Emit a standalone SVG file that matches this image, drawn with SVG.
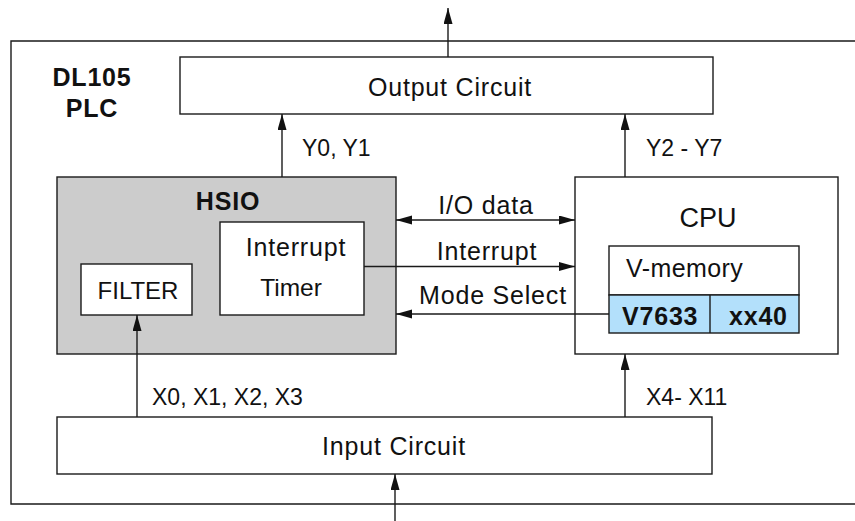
<svg xmlns="http://www.w3.org/2000/svg" width="855" height="521" viewBox="0 0 855 521">
<style>
  .box { fill: #ffffff; stroke: #1a1a1a; stroke-width: 1.4; }
  .gray { fill: #cccccc; stroke: #1a1a1a; stroke-width: 1.4; }
  .blue { fill: #b3e0fb; stroke: #1a1a1a; stroke-width: 1.4; }
  .ln { fill: none; stroke: #1a1a1a; stroke-width: 1.4; }
  .t { font-family: "Liberation Sans", Arial, sans-serif; font-size: 25px; letter-spacing: 0.8px; fill: #111; }
  .s { font-family: "Liberation Sans", Arial, sans-serif; font-size: 23px; fill: #111; }
  .b { font-family: "Liberation Sans", Arial, sans-serif; font-size: 25px; font-weight: bold; letter-spacing: 0.8px; fill: #111; }
  .m { text-anchor: middle; }
</style>
<defs>
  <marker id="ah" markerUnits="userSpaceOnUse" markerWidth="17" markerHeight="10" refX="16" refY="4.5" orient="auto-start-reverse">
    <path d="M0,0 L16,4.5 L0,9 z" fill="#111"/>
  </marker>
</defs>
<rect width="855" height="521" fill="#ffffff"/>

<g id="frame">
  <path class="ln" d="M856,41 H11 V504 H856"/>
  <text class="b m" x="92" y="86">DL105</text>
  <text class="b m" x="92" y="117">PLC</text>
</g>

<g id="output-circuit">
  <rect class="box" x="180" y="57" width="533" height="57"/>
  <text class="t m" x="450" y="96">Output Circuit</text>
</g>

<g id="hsio">
  <rect class="gray" x="57" y="177" width="339" height="177"/>
  <text class="b m" x="228" y="210">HSIO</text>
</g>

<g id="interrupt-timer">
  <rect class="box" x="220" y="222" width="144" height="93"/>
  <text class="t m" x="296" y="256">Interrupt</text>
  <text class="t m" x="291" y="296" style="font-size:24.5px;letter-spacing:0">Timer</text>
</g>

<g id="filter">
  <rect class="box" x="81" y="264" width="111" height="51"/>
  <text class="t m" x="138" y="299" style="font-size:24px;letter-spacing:0">FILTER</text>
</g>

<g id="cpu">
  <rect class="box" x="575" y="177" width="263" height="177"/>
  <text class="t m" x="708" y="227" style="font-size:27px;letter-spacing:0">CPU</text>
</g>

<g id="v-memory">
  <rect class="box" x="609" y="246" width="190" height="49"/>
  <rect class="blue" x="609" y="295" width="190" height="38"/>
  <line class="ln" x1="710" y1="295" x2="710" y2="333"/>
  <text class="t" x="626" y="277" style="letter-spacing:0.4px">V-memory</text>
  <text class="b" x="622" y="325">V7633</text>
  <text class="b" x="729" y="325">xx40</text>
</g>

<g id="input-circuit">
  <rect class="box" x="57" y="417" width="655" height="57"/>
  <text class="t m" x="394" y="455">Input Circuit</text>
</g>

<g id="connectors">
  <line class="ln" x1="448" y1="57" x2="448" y2="8" marker-end="url(#ah)"/>
  <line class="ln" x1="282" y1="177" x2="282" y2="114" marker-end="url(#ah)"/>
  <line class="ln" x1="625" y1="177" x2="625" y2="114" marker-end="url(#ah)"/>
  <line class="ln" x1="396" y1="220" x2="575" y2="220" marker-start="url(#ah)" marker-end="url(#ah)"/>
  <line class="ln" x1="364" y1="266.5" x2="575" y2="266.5" marker-end="url(#ah)"/>
  <line class="ln" x1="609" y1="314" x2="396" y2="314" marker-end="url(#ah)"/>
  <line class="ln" x1="137" y1="417" x2="137" y2="315" marker-end="url(#ah)"/>
  <line class="ln" x1="625" y1="417" x2="625" y2="354" marker-end="url(#ah)"/>
  <line class="ln" x1="395" y1="521" x2="395" y2="474" marker-end="url(#ah)"/>
  <text class="t m" x="486" y="214">I/O data</text>
  <text class="t m" x="487" y="260">Interrupt</text>
  <text class="t m" x="493" y="304">Mode Select</text>
  <text class="s" x="302" y="156">Y0, Y1</text>
  <text class="s" x="646" y="156">Y2 - Y7</text>
  <text class="s" x="152" y="405">X0, X1, X2, X3</text>
  <text class="s" x="646" y="405">X4- X11</text>
</g>
</svg>
